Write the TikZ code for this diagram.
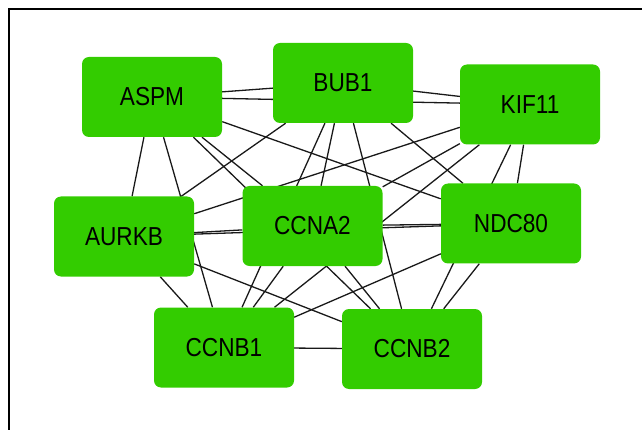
\documentclass[tikz,border=0pt]{standalone}
\usepackage{fontspec}
\usetikzlibrary{backgrounds}
\newfontfamily\genefont[FakeStretch=0.87]{Liberation Sans}
\definecolor{genegreen}{RGB}{51,204,0}
\tikzset{
  gene/.style={fill=genegreen, draw=none, rounded corners=7pt,
    minimum width=140pt, minimum height=80pt, inner sep=0pt,
    font=\genefont\fontsize{26}{26}\selectfont},
  link/.style={-, black!90, line width=1.3pt}
}

\begin{document}
\begin{tikzpicture}[x=1pt,y=-1pt]
\useasboundingbox (0,0) rectangle (642,430);
\draw[line width=2.5pt] (9,430) -- (9,9) -- (642,9);
\node[gene] (aspm) at (152,97) {ASPM};
\node[gene] (bub1) at (343,83) {BUB1};
\node[gene] (kif11) at (530,104.5) {KIF11};
\node[gene] (aurkb) at (124,236.5) {AURKB};
\node[gene] (ccna2) at (312.5,226) {CCNA2};
\node[gene] (ndc80) at (511,223.5) {NDC80};
\node[gene] (ccnb1) at (224,347.5) {CCNB1};
\node[gene] (ccnb2) at (412,349) {CCNB2};
\begin{pgfonlayer}{background}
\path[link] (aspm) edge (bub1) (aspm) edge (kif11) (aspm) edge (aurkb) (aspm) edge (ccna2)
  (aspm) edge (ndc80) (aspm) edge (ccnb1) (aspm) edge (ccnb2);
\path[link] (bub1) edge (kif11) (bub1) edge (aurkb) (bub1) edge (ccna2) (bub1) edge (ndc80)
  (bub1) edge (ccnb1) (bub1) edge (ccnb2);
\path[link] (kif11) edge (aurkb) (kif11) edge (ccna2) (kif11) edge (ndc80)
  (kif11) edge (ccnb1) (kif11) edge (ccnb2);
\path[link] (aurkb) edge (ccna2) (aurkb) edge (ndc80) (aurkb) edge (ccnb1) (aurkb) edge (ccnb2);
\path[link] (ccna2) edge (ndc80) (ccna2) edge (ccnb1) (ccna2) edge (ccnb2);
\path[link] (ndc80) edge (ccnb1) (ndc80) edge (ccnb2);
\path[link] (ccnb1) edge (ccnb2);
\end{pgfonlayer}
\end{tikzpicture}
\end{document}
